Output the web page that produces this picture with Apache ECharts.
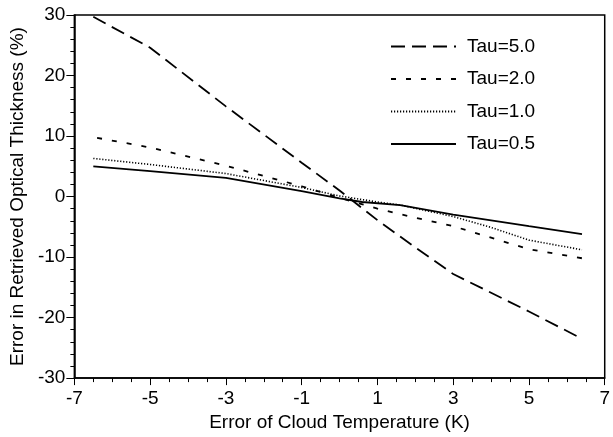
<!DOCTYPE html>
<html>
<head>
<meta charset="utf-8">
<script src="https://cdn.jsdelivr.net/npm/echarts@6/dist/echarts.min.js"></script>
<style>
  html, body { margin: 0; padding: 0; background: #fff; }
  #chart { width: 613px; height: 437px; }
</style>
</head>
<body>
<div id="chart"></div>
<script>
// Retrieval error of optical thickness vs. cloud temperature error, per optical depth
const tau50 = [[-6.5, 29.7], [-5, 24.6], [-3, 14.9], [-1, 5.6], [0, 1.0], [1, -3.9], [2, -8.4], [3, -12.8], [5, -19.0], [6.4, -23.5]];
const tau20 = [[-6.4, 9.7], [-5, 8.1], [-3, 5.1], [-1, 1.7], [0, -0.2], [1, -2.0], [2, -3.5], [3, -4.9], [4, -6.8], [5, -8.7], [6.4, -10.2]];
const tau10 = [[-6.5, 6.3], [-5, 5.3], [-3, 3.8], [-1, 1.5], [0, 0.1], [1, -0.9], [1.6, -1.4], [3, -3.3], [4, -5.1], [5, -7.2], [6.4, -8.8]];
const tau05 = [[-6.5, 5.0], [-5, 4.2], [-3, 3.1], [-1, 0.9], [0, -0.3], [0.6, -0.9], [1.6, -1.4], [3, -3.0], [5, -4.9], [6.4, -6.2]];

const seriesNames = ['Tau=5.0', 'Tau=2.0', 'Tau=1.0', 'Tau=0.5'];
const xRange = [-7, 7];
const yRange = [-30, 30];

const FONT = '"Liberation Sans", Arial, sans-serif';
const FS = 19;
const chart = echarts.init(document.getElementById('chart'), null, { renderer: 'canvas' });

function lineSeries(name, data, width, dash) {
  return {
    name: name,
    type: 'line',
    data: data,
    symbol: 'none',
    showSymbol: false,
    smooth: false,
    animation: false,
    color: '#000',
    itemStyle: { color: '#000' },
    lineStyle: { color: '#000', width: width, type: dash }
  };
}

chart.setOption({
  backgroundColor: '#fff',
  animation: false,
  color: ['#000'],
  textStyle: { fontFamily: FONT, color: '#000' },
  grid: {
    left: 69, right: 3, top: 15, bottom: 54,
    show: true, borderColor: '#000', borderWidth: 1.5, backgroundColor: 'transparent'
  },
  legend: {
    orient: 'vertical',
    left: 385, top: 32,
    itemWidth: 65, itemHeight: 14, itemGap: 13.5,
    itemStyle: { opacity: 0 },
    textStyle: { fontFamily: FONT, fontSize: FS, color: '#000', padding: [0, 0, 0, 6] },
    data: seriesNames.map(n => ({ name: n }))
  },
  xAxis: {
    type: 'value',
    min: xRange[0], max: xRange[1], interval: 2,
    name: 'Error of Cloud Temperature (K)',
    nameLocation: 'middle', nameGap: 31,
    nameTextStyle: { fontFamily: FONT, fontSize: FS, color: '#000' },
    axisLine: { show: true, onZero: false, lineStyle: { color: '#000', width: 1.5 } },
    axisTick: { show: true, inside: false, length: 7, lineStyle: { color: '#000', width: 1 } },
    minorTick: { show: true, splitNumber: 4, length: 4, lineStyle: { color: '#000', width: 1 } },
    axisLabel: { fontFamily: FONT, fontSize: FS, color: '#000', margin: 11 },
    splitLine: { show: false }
  },
  yAxis: {
    type: 'value',
    min: yRange[0], max: yRange[1], interval: 10,
    name: 'Error in Retrieved Optical Thickness (%)',
    nameLocation: 'middle', nameGap: 44,
    nameTextStyle: { fontFamily: FONT, fontSize: FS, color: '#000' },
    axisLine: { show: true, onZero: false, lineStyle: { color: '#000', width: 1.5 } },
    axisTick: { show: true, inside: false, length: 8, lineStyle: { color: '#000', width: 1 } },
    minorTick: { show: true, splitNumber: 5, length: 4, lineStyle: { color: '#000', width: 1 } },
    axisLabel: { fontFamily: FONT, fontSize: FS, color: '#000', margin: 9 },
    splitLine: { show: false }
  },
  series: [
    lineSeries(seriesNames[0], tau50, 1.8, [14, 7]),
    lineSeries(seriesNames[1], tau20, 1.8, [5, 10]),
    lineSeries(seriesNames[2], tau10, 1.6, [1.2, 1.8]),
    lineSeries(seriesNames[3], tau05, 1.8, 'solid')
  ]
});
</script>
</body>
</html>
